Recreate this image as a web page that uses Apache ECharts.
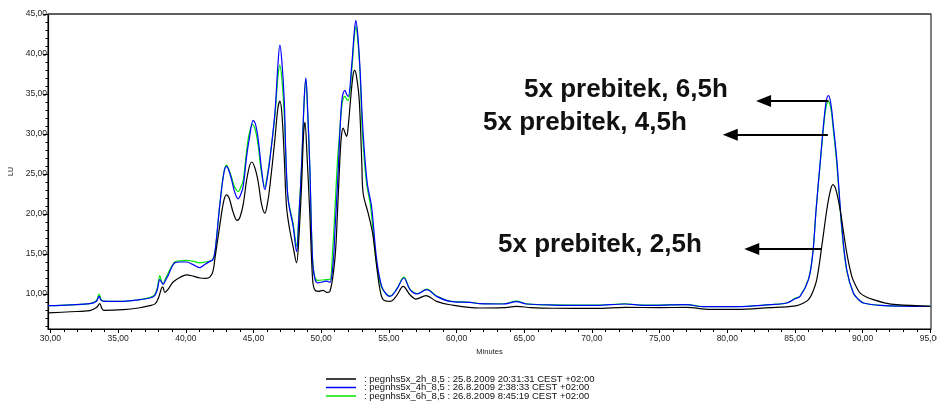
<!DOCTYPE html>
<html>
<head>
<meta charset="utf-8">
<script src="https://cdn.jsdelivr.net/npm/echarts@6/dist/echarts.min.js"></script>
<style>
  html, body { margin: 0; padding: 0; background: #fff; }
  #chart { width: 937px; height: 409px; }
</style>
</head>
<body>
<div id="chart"></div>
<script>
// Fluorescence chromatograms (LU vs. minutes) of three PEG-NHS reaction times.
const seriesNames = [
  ': pegnhs5x_2h_8,5 : 25.8.2009 20:31:31 CEST +02:00',
  ': pegnhs5x_4h_8,5 : 26.8.2009 2:38:33 CEST +02:00',
  ': pegnhs5x_6h_8,5 : 26.8.2009 8:45:19 CEST +02:00'
];

const xTickValues = [30, 35, 40, 45, 50, 55, 60, 65, 70, 75, 80, 85, 90, 95];
const yTickValues = [10, 15, 20, 25, 30, 35, 40, 45];

// [minutes, LU]
const trace2h = [
  [29.82,7.63],[31.5,7.78],[32.9,7.93],[33.4,8.3],[33.64,8.79],[33.8,8.2],[33.94,7.95],[35.37,8.04],
  [36.5,8.25],[37.34,8.54],[37.75,8.8],[38.0,9.6],[38.2,10.7],[38.3,10.9],[38.45,10.2],[38.7,10.6],
  [39.06,11.5],[39.6,12.1],[40.05,12.4],[40.6,12.2],[41.04,12.0],[41.5,11.95],[41.77,12.1],[42.0,12.8],
  [42.14,14.3],[42.5,18.45],[42.8,21.6],[43.0,22.4],[43.2,22.0],[43.5,20.2],[43.79,19.2],[44.0,19.6],
  [44.24,21.2],[44.55,24.8],[44.86,26.5],[45.1,25.8],[45.35,24.0],[45.6,21.2],[45.84,20.1],[46.05,21.5],
  [46.21,23.45],[46.58,29.3],[46.8,33.2],[46.95,34.1],[47.1,32.5],[47.27,27.2],[47.44,20.9],[47.68,18.0],
  [47.93,15.9],[48.18,13.9],[48.35,17.0],[48.55,23.5],[48.7,30.0],[48.8,31.45],[48.95,27.5],[49.16,20.0],
  [49.36,12.0],[49.5,10.6],[49.78,10.33],[50.15,10.45],[50.4,10.2],[50.64,10.3],[51.01,14.3],[51.2,20.0],
  [51.38,26.8],[51.5,29.8],[51.63,30.75],[51.75,30.2],[51.88,29.7],[52.0,31.0],[52.17,34.3],[52.35,37.3],
  [52.47,37.95],[52.6,37.3],[52.81,34.3],[53.0,26.5],[53.1,22.6],[53.47,20.1],[53.8,17.6],[54.1,13.45],
  [54.35,10.5],[54.58,9.29],[55.08,9.08],[55.57,9.79],[56.06,10.95],[56.56,9.91],[57.0,9.37],[57.74,9.79],
  [58.53,9.08],[59.51,8.66],[61.73,8.25],[63.45,8.29],[64.44,8.45],[65.5,8.3],[67.15,8.22],[70.35,8.2],
  [72.45,8.33],[75.0,8.3],[77.0,8.33],[78.72,8.08],[80.7,8.08],[83.16,8.29],[84.4,8.4],[85.14,8.54],
  [85.6,8.85],[86.0,9.29],[86.3,10.2],[86.61,11.8],[86.98,15.95],[87.35,20.5],[87.6,22.8],[87.8,23.66],
  [88.0,23.2],[88.34,20.5],[88.83,15.1],[89.2,12.2],[89.5,11.0],[89.82,10.1],[90.3,9.6],[90.8,9.29],
  [91.6,8.9],[92.53,8.66],[95.0,8.45]
];

const trace4h = [
  [29.82,8.54],[31.5,8.65],[32.9,8.79],[33.4,9.1],[33.59,9.7],[33.75,9.2],[33.89,9.12],[35.37,9.08],
  [36.6,9.29],[37.34,9.5],[37.7,9.8],[37.9,10.6],[38.08,11.8],[38.2,11.5],[38.32,11.2],[38.5,11.7],
  [38.69,12.3],[39.19,13.9],[39.6,14.0],[40.05,14.0],[40.5,13.7],[41.03,13.3],[41.4,13.7],[41.77,14.08],
  [42.0,14.3],[42.14,15.1],[42.3,17.5],[42.5,20.95],[42.8,25.0],[43.0,25.95],[43.15,25.6],[43.38,24.3],
  [43.6,22.8],[43.87,21.9],[44.05,22.4],[44.24,23.45],[44.5,27.3],[44.68,29.3],[44.98,31.7],[45.15,31.2],
  [45.35,29.3],[45.6,25.5],[45.84,23.04],[46.0,24.3],[46.21,26.8],[46.58,32.6],[46.8,38.5],[46.95,41.1],
  [47.1,39.0],[47.27,34.3],[47.4,27.0],[47.56,21.8],[47.93,18.45],[48.18,15.3],[48.35,19.5],[48.55,25.95],
  [48.75,34.5],[48.87,37.0],[49.0,33.0],[49.16,25.95],[49.36,14.3],[49.55,11.8],[49.78,11.4],[50.4,11.6],
  [50.64,11.45],[50.89,14.0],[51.01,17.6],[51.26,25.5],[51.38,30.1],[51.55,34.5],[51.75,35.45],[51.9,34.9],
  [52.0,34.7],[52.25,38.45],[52.45,42.8],[52.56,44.2],[52.7,42.5],[52.86,38.45],[53.1,30.1],[53.4,23.9],
  [53.72,20.95],[54.1,14.3],[54.47,10.95],[54.8,10.0],[55.08,9.7],[55.57,10.54],[56.11,12.0],[56.56,10.54],
  [57.1,10.0],[57.79,10.54],[58.53,9.7],[59.51,9.08],[60.99,8.95],[61.73,8.79],[63.45,8.75],[64.44,9.04],
  [65.18,8.75],[67.15,8.62],[70.35,8.58],[72.45,8.75],[73.8,8.58],[77.0,8.66],[78.23,8.41],[80.7,8.41],
  [83.16,8.66],[84.4,8.87],[85.0,9.4],[85.38,9.7],[86.0,11.8],[86.32,15.1],[86.56,20.5],[86.88,26.8],
  [87.1,30.95],[87.3,34.0],[87.47,34.79],[87.65,33.8],[87.84,30.95],[88.09,26.8],[88.46,18.45],[88.83,13.0],
  [89.32,10.1],[89.7,9.3],[90.06,8.87],[91.3,8.58],[95.0,8.45]
];

const trace6h = [
  [29.82,8.54],[31.5,8.65],[32.9,8.79],[33.4,9.2],[33.59,10.0],[33.75,9.3],[33.89,9.12],[35.37,9.08],
  [36.6,9.29],[37.34,9.55],[37.7,9.9],[37.9,10.8],[38.08,12.3],[38.2,11.6],[38.32,11.3],[38.5,11.9],
  [38.69,12.6],[39.19,14.0],[39.6,14.15],[40.05,14.2],[40.5,14.1],[41.03,13.9],[41.4,14.0],[41.77,14.1],
  [42.0,14.35],[42.14,15.1],[42.3,17.5],[42.5,21.0],[42.8,25.1],[43.0,26.1],[43.15,25.7],[43.38,24.6],
  [43.6,23.4],[43.87,22.8],[44.05,23.3],[44.24,24.2],[44.5,28.0],[44.68,30.0],[44.92,31.2],[45.15,30.4],
  [45.35,28.5],[45.6,25.0],[45.84,23.4],[46.0,24.6],[46.21,27.0],[46.58,32.2],[46.8,37.0],[46.95,38.6],
  [47.1,36.8],[47.27,32.5],[47.4,26.5],[47.56,21.9],[47.93,18.8],[48.18,15.95],[48.35,19.8],[48.55,25.9],
  [48.75,34.3],[48.87,36.8],[49.0,32.8],[49.16,25.8],[49.36,14.5],[49.55,12.0],[49.78,11.7],[50.4,11.8],
  [50.64,11.8],[50.85,15.5],[51.0,20.0],[51.2,26.5],[51.38,30.5],[51.55,33.8],[51.75,34.7],[51.9,34.3],
  [52.0,34.2],[52.25,37.8],[52.45,42.2],[52.56,43.45],[52.7,41.8],[52.86,38.0],[53.05,30.1],[53.35,23.9],
  [53.65,20.95],[54.05,14.3],[54.43,10.95],[54.8,10.0],[55.08,9.75],[55.57,10.6],[56.11,12.1],[56.56,10.6],
  [57.1,10.05],[57.79,10.6],[58.53,9.75],[59.51,9.1],[60.99,8.97],[61.73,8.8],[63.45,8.78],[64.44,9.1],
  [65.18,8.77],[67.15,8.63],[70.35,8.6],[72.45,8.78],[73.8,8.6],[77.0,8.68],[78.23,8.42],[80.7,8.42],
  [83.16,8.68],[84.4,8.9],[85.0,9.45],[85.38,9.75],[86.0,11.9],[86.32,15.2],[86.56,20.5],[86.88,26.6],
  [87.1,30.7],[87.3,33.4],[87.47,34.08],[87.65,33.2],[87.84,30.4],[88.09,26.3],[88.46,18.1],[88.83,12.9],
  [89.32,10.1],[89.7,9.3],[90.06,8.87],[91.3,8.58],[95.0,8.45]
];

// Arrow annotations: [from, to] in [minutes, LU]; "to" is the centre of the arrowhead
const arrowLines = [
  [[87.47, 34.12], [82.68, 34.12]],
  [[87.43, 29.91], [80.22, 29.91]],
  [[86.98, 15.62], [81.81, 15.62]]
];
const noteTexts = ['5x prebitek, 6,5h', '5x prebitek, 4,5h', '5x prebitek, 2,5h'];
const notePos = [[524, 90], [483, 123], [498, 245]];

const X_MIN = 29.82, X_MAX = 95.05, Y_MIN = 5.625, Y_MAX = 45;
const FONT = '"Liberation Sans", Arial, sans-serif';
const fmt = v => v.toFixed(2).replace('.', ',');

const minuteTicks = [];
for (let m = 30; m <= 95; m++) minuteTicks.push(m);
const luTicks = [];
for (let u = 6; u <= 45; u++) luTicks.push(u);

const chart = echarts.init(document.getElementById('chart'), null, { renderer: 'canvas' });

const lineSeries = (name, data, color, extra) => Object.assign({
  name, type: 'line', data, showSymbol: false, smooth: 0.35,
  lineStyle: { color, width: 1.2 }, itemStyle: { color },
  xAxisIndex: 0, yAxisIndex: 0, z: 3
}, extra || {});

chart.setOption({
  animation: false,
  backgroundColor: '#fff',
  textStyle: { fontFamily: FONT },
  grid: {
    left: 48, right: 6, top: 14, bottom: 80,
    containLabel: false, outerBoundsMode: 'none',
    show: true, borderColor: '#000', borderWidth: 1
  },
  legend: {
    orient: 'vertical', left: 326, top: 374, padding: 0,
    itemWidth: 30, itemHeight: 1.5, itemGap: -1.5, icon: 'rect',
    data: seriesNames,
    textStyle: { fontFamily: FONT, fontSize: 9.5, color: '#111', padding: [0, 0, 0, 3] }
  },
  xAxis: [
    {
      type: 'value', min: X_MIN, max: X_MAX, position: 'bottom',
      name: 'Minutes', nameLocation: 'middle', nameGap: 18,
      nameTextStyle: { fontFamily: FONT, fontSize: 7.5, color: '#222' },
      axisLine: { show: true, onZero: false, lineStyle: { color: '#000', width: 1.2 } },
      axisTick: { show: true, customValues: xTickValues, length: 4, lineStyle: { color: '#000' } },
      axisLabel: { customValues: xTickValues, formatter: fmt, fontSize: 8.5, color: '#222', margin: 5 },
      splitLine: { show: false }
    },
    {
      type: 'value', min: X_MIN, max: X_MAX, position: 'bottom', gridIndex: 0,
      axisLine: { show: false },
      axisTick: { show: true, customValues: minuteTicks, length: 3, lineStyle: { color: '#000' } },
      axisLabel: { show: false }, splitLine: { show: false }
    },
    {
      type: 'value', min: X_MIN, max: X_MAX, position: 'top', gridIndex: 0,
      axisLine: { show: true, lineStyle: { color: '#555', width: 1.5 } },
      axisTick: { show: false }, axisLabel: { show: false }, splitLine: { show: false }
    }
  ],
  yAxis: [
    {
      type: 'value', min: Y_MIN, max: Y_MAX, position: 'left',
      name: 'LU', nameLocation: 'middle', nameGap: 31, nameRotate: 90,
      nameTextStyle: { fontFamily: FONT, fontSize: 7, color: '#222' },
      axisLine: { show: true, onZero: false, lineStyle: { color: '#000', width: 1.2 } },
      axisTick: { show: true, customValues: yTickValues, length: 5, lineStyle: { color: '#000' } },
      axisLabel: { customValues: yTickValues, formatter: fmt, fontSize: 8.5, color: '#222', margin: 1 },
      splitLine: { show: false }
    },
    {
      type: 'value', min: Y_MIN, max: Y_MAX, position: 'left', gridIndex: 0,
      axisLine: { show: false },
      axisTick: { show: true, customValues: luTicks, length: 2.5, lineStyle: { color: '#000' } },
      axisLabel: { show: false }, splitLine: { show: false }
    }
  ],
  series: [
    lineSeries(seriesNames[2], trace6h, '#00e600'),
    lineSeries(seriesNames[1], trace4h, '#0000ff'),
    lineSeries(seriesNames[0], trace2h, '#000000', {
      markLine: {
        silent: true, symbol: ['none', 'triangle'], symbolSize: [12, 15], animation: false,
        label: { show: false },
        lineStyle: { color: '#000', width: 2, type: 'solid' },
        emphasis: { disabled: true },
        data: arrowLines.map(([a, b]) => [{ coord: a }, { coord: b }])
      }
    })
  ],
  graphic: noteTexts.map((t, i) => ({
    type: 'text', x: notePos[i][0], y: notePos[i][1], z: 10,
    style: { text: t, font: 'bold 26px ' + FONT, fill: '#111', verticalAlign: 'middle', textAlign: 'left' }
  }))
});
</script>
</body>
</html>
